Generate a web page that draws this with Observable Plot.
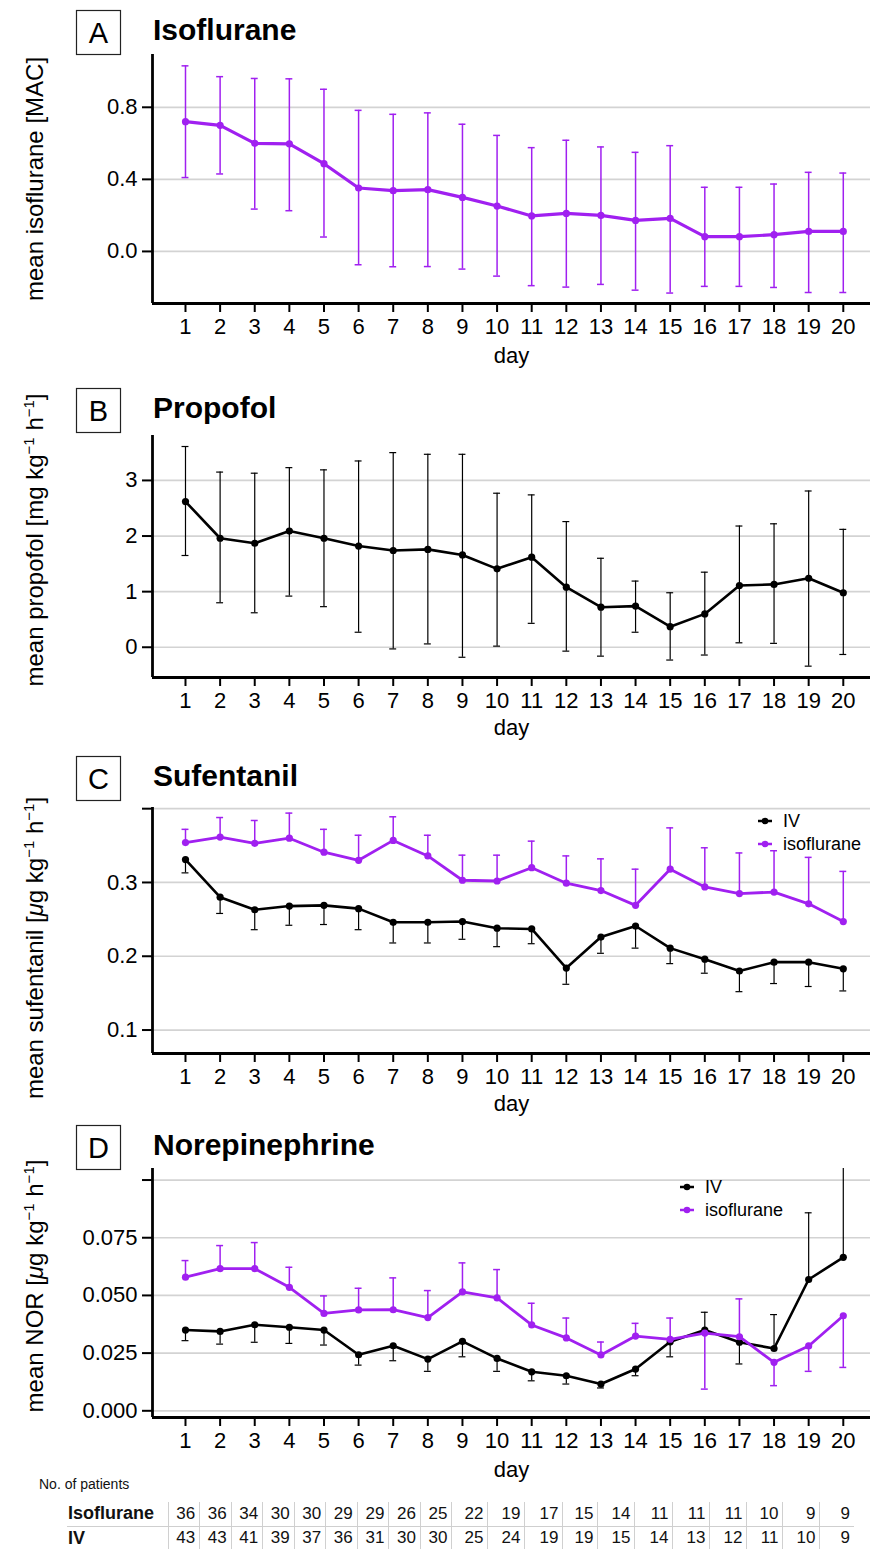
<!DOCTYPE html>
<html><head><meta charset="utf-8">
<script src="https://cdn.jsdelivr.net/npm/d3@7"></script>
<script src="https://cdn.jsdelivr.net/npm/@observablehq/plot@0.6"></script>
<style>
body{margin:0;background:#fff;}
#page{position:relative;width:870px;height:1549px;overflow:hidden;background:#fff;font-family:"Liberation Sans",Arial,Helvetica,sans-serif;}
.panel{position:absolute;left:0;}
#overlay{position:absolute;left:0;top:0;pointer-events:none;}
#npat{position:absolute;left:39px;top:1476px;font-size:14px;color:#111;}
#tbl{position:absolute;left:67px;top:1502px;border-collapse:collapse;font-size:17px;color:#111;}
#tbl td{padding:0 4px 0 0;text-align:right;height:24px;border-left:1px solid #d0d0d0;box-sizing:border-box;}
#tbl td.lab{border-left:none;text-align:left;font-weight:bold;font-size:18px;padding-left:1px;}
#tbl tr.r1 td{border-bottom:1px solid #cfcfcf;}
</style></head><body><div id="page"></div>
<script>
// ---------- data ----------
const days = [1,2,3,4,5,6,7,8,9,10,11,12,13,14,15,16,17,18,19,20];

// A: isoflurane (MAC)
const isoMean  = [0.72,0.70,0.60,0.597,0.487,0.352,0.337,0.343,0.300,0.252,0.197,0.211,0.200,0.172,0.183,0.082,0.082,0.093,0.111,0.111];
const isoUpper = [1.03,0.97,0.96,0.958,0.90,0.783,0.761,0.769,0.706,0.644,0.576,0.617,0.580,0.550,0.587,0.356,0.356,0.374,0.439,0.435];
const isoLower = [0.41,0.43,0.235,0.226,0.08,-0.074,-0.085,-0.084,-0.098,-0.137,-0.190,-0.198,-0.183,-0.215,-0.231,-0.194,-0.194,-0.200,-0.228,-0.228];

// B: propofol
const propMean  = [2.62,1.96,1.87,2.09,1.96,1.82,1.74,1.76,1.66,1.41,1.62,1.08,0.72,0.74,0.37,0.60,1.11,1.13,1.24,0.98];
const propUpper = [3.61,3.15,3.13,3.23,3.19,3.35,3.50,3.47,3.47,2.77,2.74,2.26,1.60,1.19,0.98,1.35,2.18,2.22,2.81,2.12];
const propLower = [1.65,0.80,0.62,0.92,0.73,0.27,-0.03,0.06,-0.18,0.02,0.43,-0.07,-0.16,0.27,-0.23,-0.14,0.08,0.07,-0.34,-0.13];

// C: sufentanil (error bar drawn to one side only)
const sufIsoMean = [0.354,0.3615,0.353,0.360,0.341,0.330,0.357,0.336,0.303,0.302,0.320,0.299,0.289,0.269,0.318,0.294,0.285,0.287,0.271,0.247];
const sufIsoBar  = [0.372,0.388,0.384,0.394,0.372,0.364,0.389,0.364,0.337,0.337,0.356,0.336,0.332,0.318,0.374,0.347,0.340,0.343,0.334,0.315];
const sufIvMean  = [0.331,0.280,0.263,0.268,0.269,0.2645,0.246,0.246,0.247,0.238,0.237,0.184,0.226,0.241,0.211,0.196,0.180,0.192,0.192,0.183];
const sufIvBar   = [0.313,0.258,0.236,0.242,0.243,0.236,0.218,0.218,0.223,0.213,0.217,0.162,0.204,0.211,0.190,0.177,0.152,0.163,0.159,0.153];

// D: norepinephrine
const norIsoMean = [0.0579,0.0616,0.0616,0.0535,0.0422,0.0437,0.0438,0.0404,0.0515,0.0489,0.0372,0.0316,0.0242,0.0324,0.0310,0.0337,0.0321,0.0210,0.0281,0.0412];
const norIsoBar  = [0.0651,0.0716,0.0729,0.0622,0.0498,0.0531,0.0576,0.0521,0.0641,0.0612,0.0466,0.0402,0.0298,0.0379,0.0402,0.0094,0.0485,0.0109,0.0171,0.0188];
const norIvMean  = [0.0350,0.0344,0.0373,0.0362,0.0350,0.0243,0.0282,0.0224,0.0301,0.0227,0.0169,0.0152,0.0116,0.0181,0.0299,0.0350,0.0297,0.0270,0.0569,0.0665];
const norIvBar   = [0.0304,0.0289,0.0297,0.0292,0.0285,0.0198,0.0217,0.0171,0.0234,0.0171,0.0130,0.0116,0.0099,0.0152,0.0234,0.0427,0.0203,0.0417,0.0858,0.1120];

// number of patients
const patIso = [36,36,34,30,30,29,29,26,25,22,19,17,15,14,11,11,11,10,9,9];
const patIv  = [43,43,41,39,37,36,31,30,30,25,24,19,19,15,14,13,12,11,10,9];

const seriesNames = ["IV","isoflurane"];
const PURPLE = "#A020F0", BLACK = "#000000";

// ---------- layout ----------
const page = document.getElementById("page");
const X_DOMAIN = [0.047, 20.786];
const FONT = "Liberation Sans, Arial, Helvetica, sans-serif";

function rowsOf(mean, a, b){
  return days.map((d,i)=>({day:d, mean:mean[i], a:a[i], b: b ? b[i] : mean[i]}));
}

function panel(cfg){
  const marks = [
    Plot.gridY(cfg.yTicks, {stroke:"#d3d3d3", strokeOpacity:1, strokeWidth:1.7}),
    Plot.axisY(cfg.yTicks, {tickSize:10, tickPadding:5, tickFormat:cfg.fmt, strokeWidth:2, fontSize:22, label:null}),
    Plot.axisX(days, {tickSize:9, tickPadding:6, tickFormat:d=>String(d), strokeWidth:2, fontSize:22,
      label:"day", labelAnchor:"center", labelOffset:cfg.labelOffset, labelArrow:"none"}),
  ];
  for (const s of cfg.series){
    const rows = rowsOf(s.mean, s.a, s.b);
    marks.push(
      Plot.ruleX(rows, {x:"day", y1:"a", y2:"b", stroke:s.color, strokeWidth:s.barW, clip:true}),
      Plot.ruleY(rows.filter(r=>r.a!==r.mean), {y:"a", x1:r=>r.day-0.1, x2:r=>r.day+0.1, stroke:s.color, strokeWidth:s.barW, clip:true}),
      Plot.ruleY(rows.filter(r=>r.b!==r.mean), {y:"b", x1:r=>r.day-0.1, x2:r=>r.day+0.1, stroke:s.color, strokeWidth:s.barW, clip:true}),
      Plot.line(rows, {x:"day", y:"mean", stroke:s.color, strokeWidth:s.lineW}),
      Plot.dot(rows, {x:"day", y:"mean", fill:s.color, r:3.6, stroke:"none"})
    );
  }
  marks.push(
    Plot.ruleX([X_DOMAIN[0]], {stroke:"black", strokeWidth:2.8}),
    Plot.ruleY([cfg.yDomain[0]], {stroke:"black", strokeWidth:2.8})
  );
  const svg = Plot.plot({
    width:870, height:cfg.height,
    marginLeft:152, marginRight:0, marginTop:cfg.mTop, marginBottom:cfg.mBottom,
    x:{type:"linear", domain:X_DOMAIN},
    y:{type:"linear", domain:cfg.yDomain},
    style:{fontFamily:FONT, fontSize:"22px", background:"transparent", color:"black", overflow:"visible"},
    marks
  });
  svg.classList.add("panel");
  svg.style.top = cfg.top + "px";
  page.appendChild(svg);
}

const fmt1 = d3.format(".1f");
// A
panel({top:0, height:372, mTop:54, mBottom:69, yDomain:[-0.289,1.093], yTicks:[0,0.4,0.8], fmt:fmt1, labelOffset:59,
  series:[{mean:isoMean, a:isoLower, b:isoUpper, color:PURPLE, lineW:3.2, barW:1.5}]});
// B
panel({top:372, height:373, mTop:63, mBottom:68, yDomain:[-0.544,3.808], yTicks:[0,1,2,3], fmt:d3.format("d"), labelOffset:57,
  series:[{mean:propMean, a:propLower, b:propUpper, color:BLACK, lineW:2.6, barW:1.2}]});
// C
panel({top:745, height:370, mTop:62, mBottom:62, yDomain:[0.0682,0.4016], yTicks:[0.1,0.2,0.3,0.4],
  fmt:d=>d>0.35?"":fmt1(d), labelOffset:57,
  series:[{mean:sufIvMean, a:sufIvBar, color:BLACK, lineW:2.6, barW:1.2},
          {mean:sufIsoMean, a:sufIsoBar, color:PURPLE, lineW:2.8, barW:1.5}]});
// D
panel({top:1115, height:363, mTop:53, mBottom:61, yDomain:[-0.0029,0.105], yTicks:[0,0.025,0.05,0.075,0.1],
  fmt:d=>d>0.09?"":d3.format(".3f")(d), labelOffset:59,
  series:[{mean:norIvMean, a:norIvBar, color:BLACK, lineW:2.6, barW:1.2},
          {mean:norIsoMean, a:norIsoBar, color:PURPLE, lineW:2.8, barW:1.5}]});

// ---------- overlay: panel letters, titles, y labels, legends ----------
const ov = d3.select(page).append("svg").attr("id","overlay").attr("width",870).attr("height",1549)
  .style("font-family",FONT);

const heads = [
  {letter:"A", title:"Isoflurane", top:10},
  {letter:"B", title:"Propofol", top:388},
  {letter:"C", title:"Sufentanil", top:756},
  {letter:"D", title:"Norepinephrine", top:1125}
];
for (const h of heads){
  ov.append("rect").attr("x",76.5).attr("y",h.top+0.5).attr("width",44).attr("height",44)
    .attr("fill","white").attr("stroke","#222").attr("stroke-width",1.2);
  ov.append("text").attr("x",98.5).attr("y",h.top+33).attr("text-anchor","middle")
    .attr("font-size",29).text(h.letter);
  ov.append("text").attr("x",153).attr("y",h.top+30).attr("font-size",30).attr("font-weight","bold").text(h.title);
}

// y labels: parts [text, style] with 'sup' superscripts and 'it' italics
const ylabels = [
  {cy:179, parts:[["mean isoflurane [MAC]"]]},
  {cy:540, parts:[["mean propofol [mg kg"],["−1","sup"],[" h"],["−1","sup"],["]"]]},
  {cy:948, parts:[["mean sufentanil ["],["μ","it"],["g kg"],["−1","sup"],[" h"],["−1","sup"],["]"]]},
  {cy:1286, parts:[["mean NOR ["],["μ","it"],["g kg"],["−1","sup"],[" h"],["−1","sup"],["]"]]}
];
for (const yl of ylabels){
  const t = ov.append("text").attr("transform",`translate(43,${yl.cy}) rotate(-90)`)
    .attr("text-anchor","middle").attr("font-size",24);
  let raised = false;
  for (const [s, st] of yl.parts){
    const sp = t.append("tspan").text(s);
    if (st==="sup"){ sp.attr("font-size",15).attr("dy",-9); raised = true; }
    else { if (raised){ sp.attr("dy",9); raised=false; } if (st==="it") sp.attr("font-style","italic"); }
  }
}

// legends (C and D)
const legends = [{x:758, y:821}, {x:680, y:1187}];
for (const lg of legends){
  seriesNames.forEach((name,i)=>{
    const y = lg.y + i*23, col = i===0 ? BLACK : PURPLE;
    ov.append("line").attr("x1",lg.x).attr("x2",lg.x+14).attr("y1",y).attr("y2",y).attr("stroke",col).attr("stroke-width",2.5);
    ov.append("circle").attr("cx",lg.x+7).attr("cy",y).attr("r",3.3).attr("fill",col);
    ov.append("text").attr("x",lg.x+25).attr("y",y).attr("dy","0.35em").attr("font-size",18).text(name);
  });
}

// ---------- table ----------
const np = document.createElement("div"); np.id="npat"; np.textContent="No. of patients"; page.appendChild(np);
const colEdges = [168,199.6,231.1,262.7,294.2,325.8,357.3,388.9,420.4,452,488,525,563,598,635,673,710,747,783,820,854];
const tbl = document.createElement("table"); tbl.id="tbl";
[["Isoflurane",patIso,"r1"],["IV",patIv,"r2"]].forEach(([lab,vals,cls])=>{
  const tr = document.createElement("tr"); tr.className=cls;
  const th = document.createElement("td"); th.className="lab"; th.textContent=lab; th.style.width=(colEdges[0]-67)+"px"; th.style.minWidth=th.style.width;
  tr.appendChild(th);
  vals.forEach((v,i)=>{
    const td=document.createElement("td"); td.textContent=v;
    const w=(colEdges[i+1]-colEdges[i])+"px"; td.style.width=w; td.style.minWidth=w; td.style.maxWidth=w;
    tr.appendChild(td);
  });
  tbl.appendChild(tr);
});
tbl.style.tableLayout="fixed";
page.appendChild(tbl);
</script></body></html>
